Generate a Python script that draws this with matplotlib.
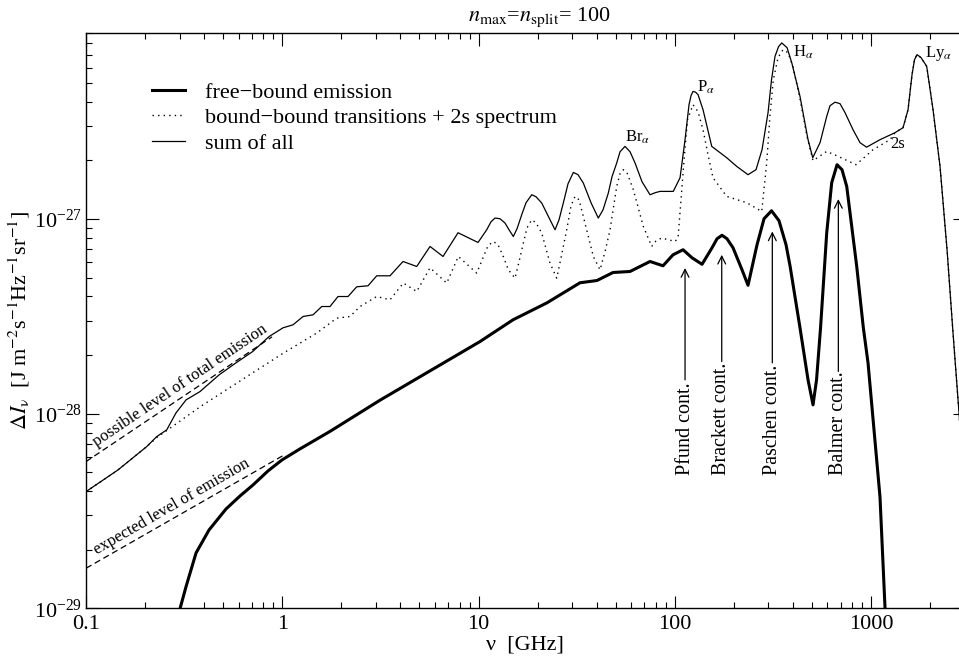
import numpy as np
import matplotlib
matplotlib.use('Agg')
import matplotlib.pyplot as plt
from matplotlib.ticker import NullFormatter
from matplotlib.patches import FancyArrowPatch

# values, intensities in units of 1e-27 J m^-2 s^-1 Hz^-1 sr^-1
unit = 1e-27

# free-bound emission (thick line)
nu_fb = [0.300, 0.323, 0.3635, 0.4235, 0.517, 0.6093, 0.7096, 0.8460, 0.9971, 1.231,
         1.751, 3.148, 10.18, 14.99, 22.34, 32.9, 40.15, 48.46, 59.16, 74.8,
         87.1, 97.97, 110.2, 122.4, 137.7, 154.8, 164.2, 174.1, 184.6, 198.1,
         220.1, 236.2, 262.5, 285.0, 311.2, 339.8, 368.9, 386.6, 434.6, 477.6,
         506.3, 527.7, 553.1, 594.7, 630.4, 671.2, 711.5, 752.0, 845.6, 913.8,
         965.4, 1111, 1178, 1190]
dI_fb = [0.0098, 0.01288, 0.01924, 0.02527, 0.03240, 0.03779, 0.04304, 0.05081, 0.05787, 0.06593,
         0.08110, 0.1173, 0.2348, 0.3036, 0.3713, 0.4706, 0.4833, 0.5314, 0.5378, 0.6053,
         0.5752, 0.6551, 0.6954, 0.6324, 0.5855, 0.7117, 0.792, 0.8254, 0.792, 0.7117,
         0.5487, 0.4566, 0.7378, 1.004, 1.103, 0.98, 0.7378, 0.5752, 0.2762, 0.1492,
         0.1110, 0.1492, 0.2762, 0.8503, 1.537, 1.902, 1.793, 1.471, 0.5705, 0.2762,
         0.1825, 0.03735, 0.01015, 0.0085]

# bound-bound transitions + 2s spectrum (dotted)
nu_bb = [0.1, 0.1456, 0.2038, 0.2300, 0.3809, 0.6849, 1.0125, 1.498, 1.894, 2.214,
         2.490, 3.028, 3.54, 4.139, 4.843, 5.661, 6.887, 7.891, 9.79, 10.54,
         11.18, 11.9, 12.57, 13.33, 14.19, 15.35, 16.08, 16.92, 17.67, 18.67,
         19.63, 20.99, 23.13, 25.03, 26.33, 28.14, 29.60, 31.02, 32.52, 34.2,
         38.46, 41.6, 44.12, 46.79, 50.6, 52.61, 54.68, 57.12, 61.5, 69.14,
         76.31, 80.27, 85.8, 100.3, 103.9, 107.6, 111.5, 116.1, 123.9, 131.4,
         139.3, 147.7, 156.6, 183.9, 232.6, 277.4, 294.1, 305.8, 317.8, 335.9,
         356.1, 377.6, 400.4, 434.6, 472.1, 506.3, 594.7, 695.0, 838.8, 1024,
         1250, 1325, 1456, 1544, 1618, 1666, 1716, 1798, 1922, 2070,
         2247, 2440, 2617, 2808, 3013]
dI_bb = [0.03976, 0.05143, 0.06773, 0.07553, 0.1084, 0.1589, 0.2047, 0.2594, 0.3097, 0.3157,
         0.3553, 0.3999, 0.3847, 0.4688, 0.4244, 0.5619, 0.4688, 0.6423, 0.5277, 0.6324,
         0.7290, 0.7671, 0.7378, 0.6477, 0.5487, 0.4971, 0.6033, 0.7527, 0.9022, 0.9917,
         0.9571, 0.8472, 0.594, 0.4971, 0.6324, 0.8810, 1.170, 1.307, 1.256, 1.031,
         0.6423, 0.5487, 0.6789, 0.8810, 1.471, 1.710, 1.793, 1.730, 1.415, 0.9161,
         0.7231, 0.7734, 0.7987, 0.7671, 0.8013, 1.256, 2.018, 3.239, 3.870, 3.562,
         2.878, 2.141, 1.631, 1.307, 1.213, 1.094, 1.947, 3.438, 5.202, 6.751,
         7.420, 7.161, 6.067, 4.154, 2.649, 1.994, 2.226, 2.078, 1.902, 2.272,
         2.557, 2.778, 2.947, 3.648, 5.521, 6.592, 6.995, 6.751, 6.089, 3.648,
         1.864, 0.6954, 0.2602, 0.1009, 0.03603]

# sum of all (thin solid)
nu_sum = [0.1, 0.1456, 0.2038, 0.2292, 0.2577, 0.2874, 0.3233, 0.3809, 0.4762, 0.5812,
          0.7068, 0.8562, 1.009, 1.134, 1.276, 1.435, 1.589, 1.751, 1.923, 2.163,
          2.395, 2.735, 3.028, 3.54, 4.124, 4.843, 5.661, 6.594, 7.863, 9.943,
          11.01, 11.58, 12.14, 12.87, 13.65, 14.30, 15.04, 15.71, 16.60, 17.46,
          18.67, 19.63, 20.99, 22.60, 24.54, 25.72, 27.04, 28.58, 30.42, 32.14,
          34.20, 37.43, 40.77, 43.10, 45.85, 47.88, 50.60, 52.61, 55.79, 59.16,
          62.74, 68.09, 74.80, 79.33, 84.09, 98.3, 106.4, 112.8, 118.2, 121.0,
          123.9, 127.6, 131.4, 139.3, 154.3, 183.9, 206.9, 236.2, 259.4, 278.4,
          298.7, 311.2, 324.2, 337.9, 350.8, 373.3, 394.4, 434.6, 477.6, 504.7,
          549.8, 594.7, 618.1, 655.6, 695.0, 737.1, 809.7, 879.0, 948.6, 1111,
          1325, 1456, 1544, 1618, 1666, 1716, 1798, 1922, 2070, 2247,
          2440, 2617, 2808, 3013]
dI_sum = [0.03976, 0.05143, 0.06773, 0.07625, 0.08253, 0.1009, 0.1177, 0.1299, 0.1582, 0.1825,
          0.2086, 0.2490, 0.2762, 0.2861, 0.3157, 0.3221, 0.3553, 0.3553, 0.3999, 0.3999,
          0.4486, 0.4540, 0.5110, 0.5110, 0.6053, 0.5705, 0.7231, 0.6423, 0.8503, 0.7580,
          0.8810, 0.9685, 1.012, 1.0036, 0.9537, 0.8810, 0.8136, 0.8915, 1.052, 1.213,
          1.333, 1.302, 1.209, 1.040, 0.8810, 0.9917, 1.209, 1.518, 1.736, 1.690,
          1.531, 1.213, 1.012, 1.116, 1.360, 1.650, 1.941, 2.218, 2.362, 2.218,
          1.941, 1.555, 1.333, 1.365, 1.387, 1.387, 1.631, 2.557, 3.870, 4.305,
          4.529, 4.487, 4.356, 3.648, 2.362, 2.066, 1.864, 1.690, 1.793, 2.272,
          3.520, 5.202, 6.855, 7.689, 8.034, 7.598, 6.362, 4.268, 2.557, 2.066,
          2.468, 3.370, 3.824, 3.986, 3.916, 3.520, 2.878, 2.468, 2.340, 2.557,
          2.778, 2.947, 3.648, 5.521, 6.592, 6.995, 6.751, 6.089, 3.648, 1.864,
          0.6954, 0.2602, 0.1009, 0.03603]

# dashed reference levels
nu_possible = [0.1, 0.8866]
dI_possible = [0.05673, 0.2482]
nu_expected = [0.1, 1.033]
dI_expected = [0.01606, 0.06175]

xtick_vals = [0.1, 1, 10, 100, 1000]
xtick_labels = ['0.1', '1', '10', '100', '1000']

# line labels: text, nu, dI
line_labels = [(r'Br$_{\alpha}$', 55.8, 2.497),
               (r'P$_{\alpha}$', 129.4, 4.513),
               (r'H$_{\alpha}$', 401.8, 6.83),
               (r'Ly$_{\alpha}$', 1884, 6.83),
               ('2s', 1250, 2.326)]

# continuum arrows: label, nu, arrow tip, text top, text bottom
cont_names = ['Pfund cont.', 'Brackett cont.', 'Paschen cont.', 'Balmer cont.']
cont_nu = [112.8, 173.5, 314.1, 681.5]
cont_tip = [0.56, 0.6551, 0.8633, 1.267]
cont_top = [0.1492, 0.1853, 0.1825, 0.1646]
cont_bottom = 0.04844

plt.rcParams['font.family'] = ['Liberation Serif', 'DejaVu Serif']
plt.rcParams['mathtext.fontset'] = 'stix'

fig = plt.figure(figsize=(9.59, 6.56), dpi=100)
ax = fig.add_axes([0.0897, 0.0727, 0.9162, 0.8765])

u = lambda v: np.array(v) * unit

ax.plot(nu_fb, u(dI_fb), color='black', lw=2.2, label='free\u2212bound emission')
ax.plot(nu_bb, u(dI_bb), color='black', lw=1.0, ls=(0, (1, 3)),
        label='bound\u2212bound transitions + 2s spectrum')
ax.plot(nu_sum, u(dI_sum), color='black', lw=0.9, label='sum of all')
ax.plot(nu_possible, u(dI_possible), color='black', lw=0.9, ls=(0, (5, 3)))
ax.plot(nu_expected, u(dI_expected), color='black', lw=0.9, ls=(0, (5, 3)))

ax.set_xscale('log')
ax.set_yscale('log')
ax.set_xlim(0.1, 3000)
ax.set_ylim(1e-29, 9e-27)

ax.set_xticks(xtick_vals)
ax.set_xticklabels(xtick_labels)
ax.xaxis.set_minor_formatter(NullFormatter())
ax.yaxis.set_minor_formatter(NullFormatter())
ax.tick_params(which='both', direction='in', top=True, right=True, labelsize=16, width=0.8)
ax.tick_params(which='major', length=9)
ax.tick_params(which='minor', length=4.5)
ax.tick_params(axis='x', pad=5)
ax.tick_params(axis='y', pad=3)
for s in ax.spines.values():
    s.set_linewidth(1.0)

ax.legend(loc='upper left', bbox_to_anchor=(0.0748, 0.915), frameon=False, fontsize=16,
          handlelength=1.49, handletextpad=0.9, labelspacing=0.22, borderpad=0, borderaxespad=0)

for txt, x, y in line_labels:
    ax.text(x, y * unit, txt, fontsize=12, ha='left', va='baseline')

for name, x, tip, top in zip(cont_names, cont_nu, cont_tip, cont_top):
    ax.add_patch(FancyArrowPatch((x, top * unit), (x, tip * unit), arrowstyle='->',
                                 lw=0.9, color='black', shrinkA=0, shrinkB=0,
                                 mutation_scale=14))
    ax.text(x, cont_bottom * unit, name, rotation=90, ha='center', va='bottom', fontsize=14.5)

ax.text(0.1138, 0.0675 * unit, 'possible level of total emission', rotation=34,
        rotation_mode='anchor', ha='left', va='baseline', fontsize=12)
ax.text(0.1138, 0.01879 * unit, 'expected level of emission', rotation=30,
        rotation_mode='anchor', ha='left', va='baseline', fontsize=12)

ax.set_xlabel('\u03bd  [GHz]', fontsize=16, labelpad=1)
fig.text(19 / 959, 1 - 320.8 / 656,
         r'$\Delta I_{\mathrm{\nu}}$  [J m$^{-2}$s$^{-1}$Hz$^{-1}$sr$^{-1}$]',
         rotation=90, ha='center', va='center', fontsize=16)
fig.text(540 / 959, 1 - 21 / 656, r'$n_{\mathrm{max}}$=$n_{\mathrm{split}}$= 100',
         ha='center', va='baseline', fontsize=16)

fig.savefig('out.png', dpi=100)
